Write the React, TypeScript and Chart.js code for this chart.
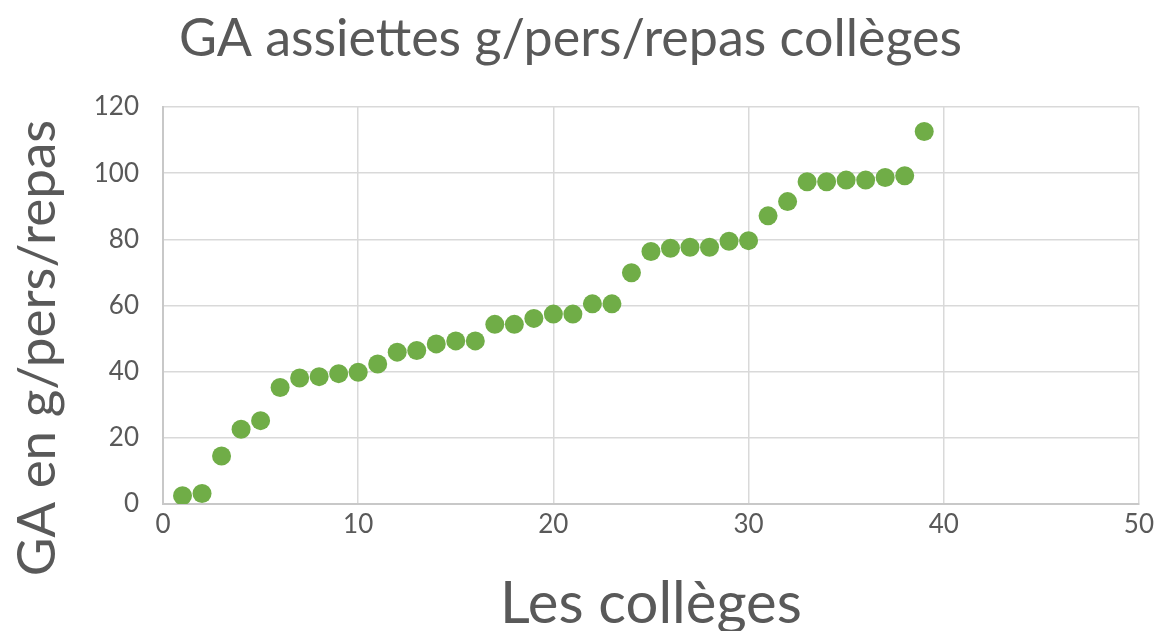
import React, { useEffect, useRef } from "react";
import { Chart, registerables } from "chart.js";

Chart.register(...registerables);

const colleges: number[] = Array.from({ length: 39 }, (_, i) => i + 1);
const gaValues: number[] = [
  2.5, 3.2, 14.5, 22.6, 25.2, 35.2, 38.1, 38.5, 39.4, 39.8,
  42.3, 45.9, 46.4, 48.4, 49.3, 49.3, 54.3, 54.3, 56.1, 57.4,
  57.4, 60.5, 60.5, 69.9, 76.3, 77.3, 77.6, 77.6, 79.4, 79.6,
  87.1, 91.4, 97.4, 97.4, 97.9, 97.9, 98.7, 99.2, 112.6,
];
const xTicks: number[] = [0, 10, 20, 30, 40, 50];
const yTicks: number[] = [0, 20, 40, 60, 80, 100, 120];

const chartTitle = "GA assiettes g/pers/repas collèges";
const xTitle = "Les collèges";
const yTitle = "GA en g/pers/repas";

const FONT = "Lato, 'Open Sans', sans-serif";
const TEXT = "#595959";
const GRID = "#d9d9d9";
const GREEN = "#70ad47";

const yTitlePlugin = {
  id: "yTitlePlugin",
  afterDraw(chart: any) {
    const ctx = chart.ctx as CanvasRenderingContext2D;
    ctx.save();
    ctx.translate(38, 348);
    ctx.rotate(-Math.PI / 2);
    ctx.font = `53px ${FONT}`;
    ctx.fillStyle = TEXT;
    ctx.textAlign = "center";
    ctx.textBaseline = "middle";
    ctx.fillText(yTitle, 0, 0);
    ctx.restore();
  },
};

export default function App() {
  const ref = useRef<HTMLCanvasElement | null>(null);

  useEffect(() => {
    document.body.style.margin = "0";
    if (!ref.current) return;
    const chart = new Chart(ref.current, {
      type: "scatter",
      data: {
        datasets: [
          {
            label: "GA",
            data: colleges.map((x, i) => ({ x, y: gaValues[i] })),
            backgroundColor: GREEN,
            borderWidth: 0,
            pointRadius: 9.5,
            pointHoverRadius: 9.5,
          },
        ],
      },
      options: {
        animation: false,
        responsive: true,
        maintainAspectRatio: false,
        layout: { padding: { left: 0, right: 18, top: 0, bottom: 0 } },
        plugins: {
          legend: { display: false },
          tooltip: { enabled: false },
          title: {
            display: true,
            text: chartTitle,
            color: TEXT,
            font: { family: FONT, size: 52, weight: "normal", lineHeight: 1.2 },
            padding: { top: 8, bottom: 36.6 },
          },
        },
        scales: {
          x: {
            type: "linear",
            min: 0,
            max: 50,
            afterFit: (s: any) => {
              s.height = 127;
            },
            afterBuildTicks: (s: any) => {
              s.ticks = xTicks.map((v) => ({ value: v }));
            },
            ticks: {
              color: TEXT,
              font: { family: FONT, size: 26 },
              padding: 5,
            },
            grid: { color: GRID, lineWidth: 1.5, drawTicks: false },
            border: { color: "#c8c8c8", width: 2 },
            title: {
              display: true,
              text: xTitle,
              color: TEXT,
              font: { family: FONT, size: 58, lineHeight: 1 },
              padding: { top: 0, bottom: -2 },
            },
          },
          y: {
            type: "linear",
            min: 0,
            max: 120,
            afterFit: (s: any) => {
              s.width = 163;
            },
            afterBuildTicks: (s: any) => {
              s.ticks = yTicks.map((v) => ({ value: v }));
            },
            ticks: {
              color: TEXT,
              font: { family: FONT, size: 26 },
              padding: 24,
            },
            grid: { color: GRID, lineWidth: 1.5, drawTicks: false },
            border: { color: "#c8c8c8", width: 2 },
          },
        },
      },
      plugins: [yTitlePlugin],
    });
    return () => chart.destroy();
  }, []);

  return (
    <div style={{ position: "fixed", left: 0, top: 0, width: 1159, height: 631, background: "#fff" }}>
      <canvas ref={ref} />
    </div>
  );
}
